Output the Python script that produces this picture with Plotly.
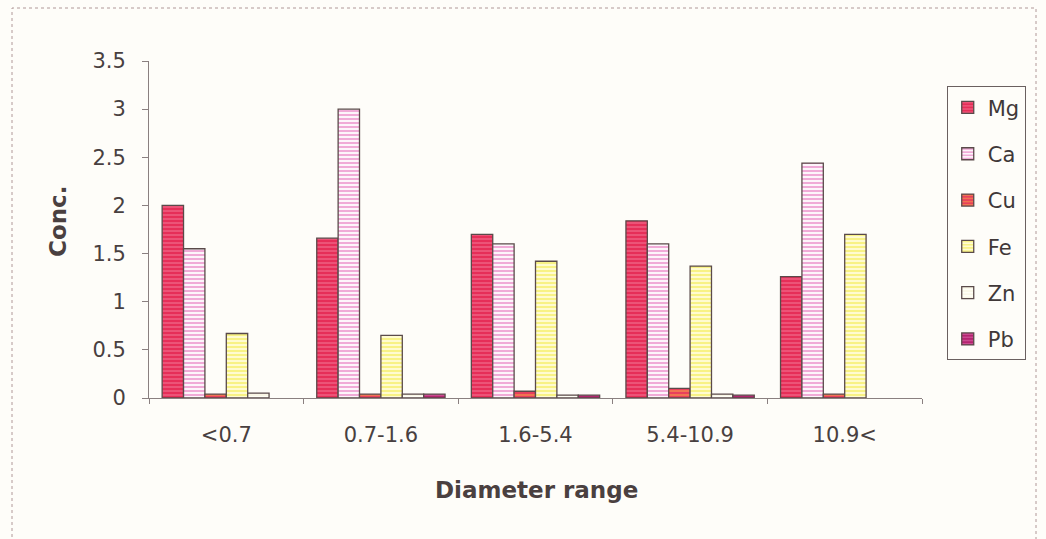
import plotly.graph_objects as go

# Size-fraction categories and element concentrations (None = not detected)
categories = ["<0.7", "0.7-1.6", "1.6-5.4", "5.4-10.9", "10.9<"]
mg = [2.00, 1.66, 1.70, 1.84, 1.26]
ca = [1.55, 3.00, 1.60, 1.60, 2.44]
cu = [0.04, 0.04, 0.07, 0.10, 0.04]
fe = [0.67, 0.65, 1.42, 1.37, 1.70]
zn = [0.05, 0.04, 0.03, 0.04, None]
pb = [None, 0.04, 0.03, 0.03, None]

series = [
    ("Mg", mg, "#e62e58", "#f27896"),
    ("Ca", ca, "#fdf4fa", "#e45fb4"),
    ("Cu", cu, "#e8405c", "#f8a848"),
    ("Fe", fe, "#fffbd0", "#f2ea3a"),
    ("Zn", zn, "#fffef6", "#f6f0d8"),
    ("Pb", pb, "#b42470", "#e070b0"),
]

FONT = "DejaVu Sans, Arial, sans-serif"

fig = go.Figure()
for name, vals, bg, fg in series:
    fig.add_trace(go.Bar(
        name=name, x=categories, y=vals, legendgroup=name,
        marker=dict(
            color=bg,
            line=dict(color="#5a4a4a", width=1.3),
            pattern=dict(shape="-", fgcolor=fg, bgcolor=bg, size=4, solidity=0.5),
        ),
    ))

axis_font = dict(family=FONT, size=21, color="#484040")

fig.update_layout(
    width=1046, height=539,
    margin=dict(l=149, r=124, t=61, b=141),
    paper_bgcolor="#fefdf9",
    plot_bgcolor="#fefdf9",
    barmode="group",
    bargap=0.17,
    bargroupgap=0,
    showlegend=True,
    legend=dict(
        x=1.032, y=0.925, xanchor="left", yanchor="top",
        bordercolor="#6a6060", borderwidth=1,
        bgcolor="rgba(0,0,0,0)",
        font=dict(family=FONT, size=21, color="#403838"),
        traceorder="grouped", tracegroupgap=16,
        itemwidth=30,
    ),
    xaxis=dict(
        type="category", tickson="boundaries", ticks="outside", ticklen=5,
        tickcolor="#8a8080", showline=True, linecolor="#8a8080", linewidth=1,
        showgrid=False, tickfont=axis_font, ticklabelstandoff=18,
    ),
    yaxis=dict(
        range=[0, 3.5], tickvals=[0, 0.5, 1, 1.5, 2, 2.5, 3, 3.5],
        ticktext=["0", "0.5", "1", "1.5", "2", "2.5", "3", "3.5"],
        ticks="outside", ticklen=6, tickcolor="#8a8080",
        showline=True, linecolor="#8a8080", linewidth=1,
        showgrid=False, zeroline=False, tickfont=axis_font, ticklabelstandoff=12,
    ),
    annotations=[
        dict(text="<b>Conc.</b>", xref="paper", yref="paper",
             x=(58 - 149) / 773, y=(398 - 222) / 337, textangle=-90,
             showarrow=False, xanchor="center", yanchor="middle",
             font=dict(family=FONT, size=23, color="#4a4040")),
        dict(text="<b>Diameter range</b>", xref="paper", yref="paper",
             x=(536 - 149) / 773, y=(398 - 490) / 337,
             showarrow=False, xanchor="center", yanchor="middle",
             font=dict(family=FONT, size=23, color="#4a4040")),
    ],
    shapes=[
        dict(type="rect", xref="paper", yref="paper",
             x0=(12 - 149) / 773, x1=(1036 - 149) / 773,
             y0=(398 - 560) / 337, y1=(398 - 8) / 337,
             line=dict(color="#b09898", width=1, dash="dot")),
    ],
)

fig.write_html("out.html")
